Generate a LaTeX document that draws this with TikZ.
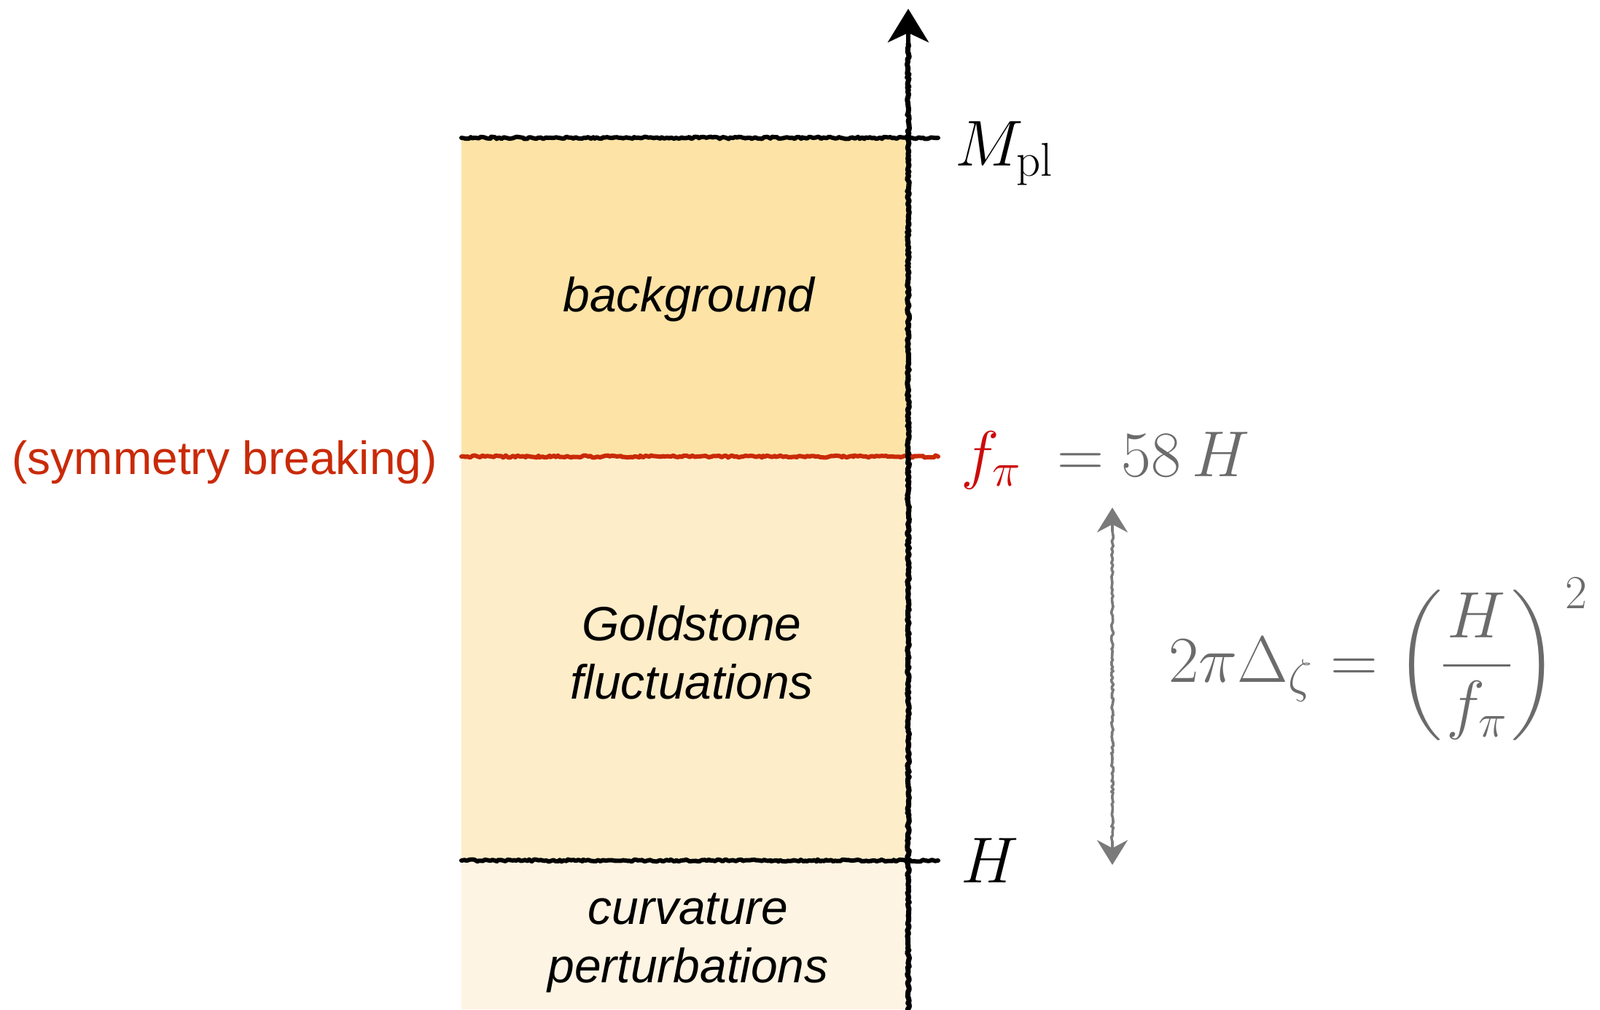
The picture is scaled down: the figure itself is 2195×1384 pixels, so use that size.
\RequirePackage{fix-cm}
\documentclass[tikz,border=0pt]{standalone}
\usepackage{graphicx}
\usepackage{fontspec}
\newfontfamily\hv{Liberation Sans}
\usetikzlibrary{arrows.meta,decorations.pathmorphing}
\DeclareMathSizes{89}{89}{65}{50}
\DeclareMathSizes{90}{90}{65}{50}
\newcommand\bigdelim[2]{#1{\vcenter{\hbox{\scalebox{8.6}{\fontsize{10}{12}\selectfont$#2$}}}}}
\definecolor{topfill}{HTML}{FDE3A6}
\definecolor{midfill}{HTML}{FEEDC9}
\definecolor{botfill}{HTML}{FEF4E3}
\definecolor{redline}{HTML}{C92A08}
\definecolor{fred}{HTML}{CC0A0A}
\definecolor{graytxt}{HTML}{6B6B6B}
\definecolor{grayarrow}{HTML}{7A7A7A}
\tikzset{
  crayon/.style={decorate,decoration={random steps,segment length=3pt,amplitude=1.5pt},line join=round,line cap=round},
  axisline/.style={crayon,draw=black,line width=7pt},
  levelline/.style={crayon,line width=6pt},
  grayline/.style={crayon,draw=grayarrow,line width=3.6pt},
  regiontext/.style={font=\hv\itshape\fontsize{66}{80}\selectfont,align=center,inner sep=0pt},
  mathlabel/.style={font=\fontsize{89}{100}\selectfont,inner sep=0pt,anchor=base west},
}
\begin{document}
\begin{tikzpicture}[x=1pt,y=-1pt]
\useasboundingbox (0,0) rectangle (2195,1384);
% regions
\fill[topfill] (633,191) rectangle (1246,626);
\fill[midfill] (633,626) rectangle (1246,1180);
\fill[botfill] (633,1180) rectangle (1246,1384);
% coordinates
\coordinate (axB) at (1246,1390);
\coordinate (axM) at (1246,60);
\coordinate (axT) at (1246,12);
\coordinate (Lpl) at (633,189);
\coordinate (Rpl) at (1287,189);
\coordinate (Lf) at (633,626);
\coordinate (Rf) at (1287,626);
\coordinate (LH) at (633,1180);
\coordinate (RH) at (1287,1180);
\coordinate (dT) at (1526,696);
\coordinate (dTm) at (1526,728);
\coordinate (dBm) at (1526,1154);
\coordinate (dB) at (1526,1186);
% level lines
\draw[levelline,draw=black] (Lpl) -- (Rpl);
\draw[levelline,draw=redline] (Lf) -- (Rf);
\draw[levelline,draw=black] (LH) -- (RH);
% axis
\draw[axisline] (axB) -- (axM);
\draw[line width=6pt,-{Stealth[length=46pt,width=56pt,inset=13pt]}] (1246,75) -- (axT);
% double arrow
\draw[grayline] (dTm) -- (dBm);
\draw[grayarrow,line width=3.4pt,-{Stealth[length=34pt,width=42pt,inset=11pt]}] (dTm) -- (dT);
\draw[grayarrow,line width=3.4pt,-{Stealth[length=34pt,width=42pt,inset=11pt]}] (dBm) -- (dB);
% region texts
\node[regiontext] (bg) at (945,410) {background};
\node[regiontext] (gold) at (949,895) {Goldstone\\fluctuations};
\node[regiontext] (curv) at (944,1293) {curvature\\perturbations};
% labels
\node[mathlabel] (mpl) at (1310,227) {$M_{\mathrm{pl}}$};
\node[mathlabel,text=fred] (fpi) at (1318,653) {$f_\pi$};
\node[mathlabel,text=graytxt] (eq) at (1450,653) {$=58\,H$};
\node[mathlabel] (hlab) at (1318,1210) {$H$};
\node[mathlabel,font=\fontsize{90}{100}\selectfont,text=graytxt] (formula) at (1603,935) {$\displaystyle 2\pi\Delta_\zeta = \bigdelim{\mathopen}{\biggl(}{\mkern1mu H\mkern1mu \above 3.6pt \mkern1mu f_\pi\mkern1mu}\bigdelim{\mathclose}{\biggr)}^{\mkern3mu 2}$};
\node[font=\hv\fontsize{64}{76}\selectfont,text=redline,inner sep=0pt,anchor=base east] (sym) at (600,650) {(symmetry breaking)};
\end{tikzpicture}
\end{document}
